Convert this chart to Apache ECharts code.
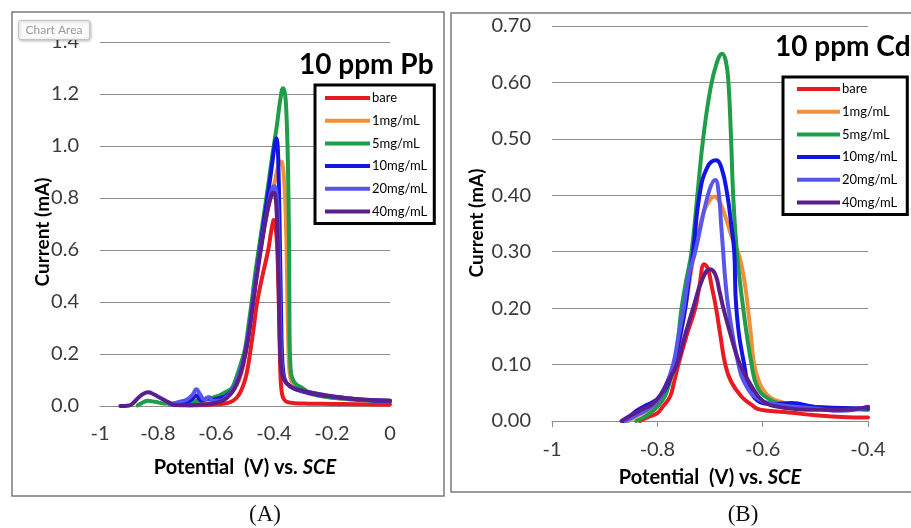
<!DOCTYPE html>
<html>
<head>
<meta charset="utf-8">
<style>
  html, body { margin: 0; padding: 0; background: #ffffff; }
  #chart { width: 911px; height: 528px; }
</style>
<script src="https://cdn.jsdelivr.net/npm/echarts@6/dist/echarts.min.js"></script>
</head>
<body>
<div id="chart"></div>
<script>
// Square-wave stripping voltammograms: 10 ppm Pb (A) and 10 ppm Cd (B)
const SERIES_NAMES = ['bare', '1mg/mL', '5mg/mL', '10mg/mL', '20mg/mL', '40mg/mL'];
const SERIES_COLORS = ['#ea1a22', '#f0913a', '#1f9d48', '#1414e4', '#5656ee', '#5a1f8c'];

// Panel A ticks
const PB_X_LABELS = ['-1', '-0.8', '-0.6', '-0.4', '-0.2', '0'];
const PB_Y_LABELS = ['0.0', '0.2', '0.4', '0.6', '0.8', '1.0', '1.2', '1.4'];
// Panel B ticks
const CD_X_LABELS = ['-1', '-0.8', '-0.6', '-0.4'];
const CD_Y_LABELS = ['0.00', '0.10', '0.20', '0.30', '0.40', '0.50', '0.60', '0.70'];

// Panel A: potential (V) vs current (mA)
const PB_BARE = [[-0.70,0.003],[-0.64,0.004],[-0.58,0.008],[-0.55,0.015],[-0.53,0.03],[-0.515,0.055],[-0.50,0.1],[-0.49,0.15],[-0.483,0.2],[-0.47,0.3],[-0.458,0.4],[-0.44,0.5],[-0.42,0.6],[-0.41,0.67],[-0.404,0.705],[-0.401,0.715],[-0.397,0.705],[-0.392,0.66],[-0.388,0.58],[-0.384,0.42],[-0.380,0.22],[-0.377,0.1],[-0.372,0.045],[-0.365,0.025],[-0.355,0.016],[-0.33,0.011],[-0.28,0.009],[-0.2,0.008],[-0.12,0.007],[-0.05,0.006],[0,0.006]];
const PB_1 = [[-0.72,0.004],[-0.69,0.01],[-0.665,0.03],[-0.645,0.012],[-0.62,0.015],[-0.59,0.025],[-0.56,0.04],[-0.54,0.06],[-0.52,0.1],[-0.505,0.16],[-0.49,0.25],[-0.478,0.35],[-0.467,0.45],[-0.455,0.55],[-0.44,0.65],[-0.42,0.76],[-0.40,0.85],[-0.388,0.91],[-0.378,0.94],[-0.372,0.935],[-0.366,0.88],[-0.361,0.78],[-0.357,0.62],[-0.354,0.42],[-0.351,0.25],[-0.347,0.14],[-0.34,0.095],[-0.325,0.07],[-0.3,0.055],[-0.25,0.04],[-0.2,0.032],[-0.1,0.022],[0,0.018]];
const PB_5 = [[-0.87,0.002],[-0.855,0.012],[-0.835,0.02],[-0.81,0.016],[-0.78,0.01],[-0.74,0.01],[-0.70,0.015],[-0.66,0.02],[-0.62,0.03],[-0.59,0.04],[-0.565,0.055],[-0.545,0.07],[-0.53,0.11],[-0.515,0.16],[-0.50,0.22],[-0.488,0.31],[-0.477,0.4],[-0.466,0.5],[-0.453,0.6],[-0.437,0.72],[-0.42,0.85],[-0.405,0.97],[-0.39,1.08],[-0.378,1.18],[-0.369,1.222],[-0.362,1.2],[-0.357,1.12],[-0.353,0.98],[-0.35,0.8],[-0.348,0.6],[-0.347,0.4],[-0.346,0.25],[-0.343,0.15],[-0.338,0.11],[-0.325,0.085],[-0.3,0.068],[-0.276,0.05],[-0.22,0.035],[-0.15,0.027],[-0.08,0.022],[0,0.02]];
const PB_10 = [[-0.75,0.005],[-0.72,0.012],[-0.69,0.02],[-0.668,0.04],[-0.65,0.02],[-0.63,0.03],[-0.61,0.025],[-0.59,0.03],[-0.565,0.04],[-0.545,0.06],[-0.525,0.1],[-0.51,0.15],[-0.497,0.22],[-0.485,0.3],[-0.473,0.4],[-0.461,0.5],[-0.449,0.6],[-0.432,0.73],[-0.415,0.86],[-0.403,0.96],[-0.396,1.015],[-0.392,1.03],[-0.388,1.01],[-0.385,0.93],[-0.382,0.78],[-0.379,0.58],[-0.376,0.38],[-0.373,0.22],[-0.368,0.13],[-0.36,0.095],[-0.345,0.075],[-0.32,0.062],[-0.28,0.05],[-0.2,0.036],[-0.12,0.026],[-0.05,0.02],[0,0.018]];
const PB_20 = [[-0.76,0.005],[-0.73,0.015],[-0.70,0.025],[-0.68,0.045],[-0.668,0.064],[-0.655,0.045],[-0.64,0.025],[-0.625,0.035],[-0.61,0.02],[-0.59,0.02],[-0.57,0.03],[-0.55,0.05],[-0.53,0.09],[-0.515,0.14],[-0.50,0.2],[-0.487,0.29],[-0.474,0.39],[-0.462,0.49],[-0.45,0.58],[-0.435,0.68],[-0.42,0.77],[-0.408,0.83],[-0.399,0.845],[-0.393,0.83],[-0.388,0.76],[-0.384,0.62],[-0.381,0.45],[-0.378,0.28],[-0.374,0.16],[-0.367,0.11],[-0.355,0.085],[-0.33,0.068],[-0.3,0.058],[-0.2,0.038],[-0.1,0.025],[0,0.02]];
const PB_40 = [[-0.93,0.0],[-0.90,0.002],[-0.885,0.012],[-0.865,0.035],[-0.845,0.05],[-0.833,0.053],[-0.815,0.045],[-0.79,0.03],[-0.765,0.015],[-0.74,0.004],[-0.70,0.003],[-0.66,0.005],[-0.62,0.008],[-0.59,0.015],[-0.57,0.025],[-0.55,0.045],[-0.535,0.07],[-0.52,0.11],[-0.505,0.17],[-0.492,0.24],[-0.48,0.33],[-0.468,0.43],[-0.455,0.53],[-0.44,0.64],[-0.425,0.74],[-0.412,0.8],[-0.403,0.82],[-0.397,0.815],[-0.392,0.77],[-0.388,0.66],[-0.384,0.48],[-0.381,0.3],[-0.377,0.17],[-0.37,0.115],[-0.357,0.088],[-0.33,0.068],[-0.3,0.058],[-0.25,0.046],[-0.2,0.037],[-0.1,0.025],[0,0.02]];

// Panel B: potential (V) vs current (mA)
const CD_BARE = [[-0.833,0],[-0.82,0.006],[-0.80,0.014],[-0.79,0.025],[-0.776,0.043],[-0.768,0.07],[-0.76,0.1],[-0.745,0.15],[-0.728,0.2],[-0.72,0.24],[-0.711,0.278],[-0.704,0.27],[-0.697,0.24],[-0.6885,0.2],[-0.68,0.15],[-0.671,0.1],[-0.66,0.07],[-0.64,0.043],[-0.62,0.028],[-0.611,0.022],[-0.59,0.018],[-0.55,0.015],[-0.5,0.01],[-0.45,0.007],[-0.4,0.006]];
const CD_1 = [[-0.855,0],[-0.84,0.008],[-0.82,0.018],[-0.80,0.03],[-0.785,0.05],[-0.772,0.08],[-0.763,0.11],[-0.754,0.16],[-0.745,0.21],[-0.735,0.27],[-0.725,0.32],[-0.712,0.37],[-0.70,0.392],[-0.692,0.398],[-0.681,0.387],[-0.669,0.357],[-0.659,0.327],[-0.644,0.291],[-0.633,0.238],[-0.628,0.2],[-0.622,0.15],[-0.616,0.1],[-0.605,0.065],[-0.59,0.045],[-0.57,0.035],[-0.54,0.028],[-0.5,0.024],[-0.45,0.022],[-0.4,0.02]];
const CD_5 = [[-0.84,0.0],[-0.82,0.01],[-0.80,0.025],[-0.785,0.045],[-0.775,0.075],[-0.766,0.1],[-0.76,0.15],[-0.754,0.2],[-0.745,0.25],[-0.735,0.3],[-0.724,0.4],[-0.713,0.5],[-0.699,0.59],[-0.687,0.635],[-0.677,0.651],[-0.670,0.638],[-0.665,0.6],[-0.660,0.5],[-0.656,0.4],[-0.649,0.3],[-0.637,0.2],[-0.621,0.1],[-0.61,0.06],[-0.59,0.04],[-0.56,0.03],[-0.5,0.025],[-0.45,0.022],[-0.4,0.02]];
const CD_10 = [[-0.865,0],[-0.85,0.01],[-0.84,0.018],[-0.827,0.025],[-0.81,0.033],[-0.795,0.043],[-0.78,0.065],[-0.768,0.1],[-0.757,0.15],[-0.747,0.2],[-0.74,0.25],[-0.732,0.3],[-0.72,0.4],[-0.705,0.45],[-0.6885,0.462],[-0.678,0.448],[-0.667,0.4],[-0.660,0.35],[-0.654,0.3],[-0.650,0.2],[-0.635,0.1],[-0.617,0.043],[-0.58,0.03],[-0.545,0.032],[-0.5,0.025],[-0.45,0.023],[-0.4,0.022]];
const CD_20 = [[-0.86,0],[-0.84,0.01],[-0.82,0.02],[-0.80,0.035],[-0.785,0.06],[-0.77,0.1],[-0.76,0.15],[-0.75,0.2],[-0.74,0.26],[-0.728,0.3],[-0.704,0.4],[-0.69,0.427],[-0.683,0.4],[-0.679,0.35],[-0.675,0.3],[-0.671,0.25],[-0.665,0.2],[-0.646,0.1],[-0.63,0.06],[-0.61,0.04],[-0.58,0.03],[-0.5,0.022],[-0.45,0.018],[-0.4,0.025]];
const CD_40 = [[-0.868,0],[-0.85,0.01],[-0.83,0.02],[-0.81,0.03],[-0.795,0.045],[-0.78,0.07],[-0.763,0.1],[-0.748,0.15],[-0.732,0.2],[-0.715,0.25],[-0.70,0.269],[-0.69,0.26],[-0.682,0.23],[-0.6746,0.2],[-0.66,0.15],[-0.643,0.1],[-0.62,0.06],[-0.5986,0.035],[-0.57,0.025],[-0.5,0.02],[-0.45,0.02],[-0.4,0.025]];

const PB_DATA = [PB_BARE, PB_1, PB_5, PB_10, PB_20, PB_40];
const CD_DATA = [CD_BARE, CD_1, CD_5, CD_10, CD_20, CD_40];

const FONT = 'Lato, "Open Sans", sans-serif';
const GRID_GRAY = '#8c8c8c';
const LABEL_GRAY = '#3a3a3a';

function tickFormatter(labels, min, step) {
  return function (v) {
    const i = Math.round((v - min) / step);
    return labels[i] !== undefined ? labels[i] : '';
  };
}

function makeSeries(dataSets, axisIndex) {
  return dataSets.map(function (d, i) {
    return {
      name: SERIES_NAMES[i],
      type: 'line',
      xAxisIndex: axisIndex,
      yAxisIndex: axisIndex,
      data: d,
      showSymbol: false,
      symbol: 'none',
      smooth: 0.45,
      color: SERIES_COLORS[i],
      lineStyle: { width: 4, color: SERIES_COLORS[i], cap: 'round', join: 'round' },
      z: 3 + i
    };
  });
}

function legendFor(left, top, padding, itemWidth) {
  return {
    orient: 'vertical',
    left: left,
    top: top,
    data: SERIES_NAMES,
    icon: 'rect',
    itemWidth: itemWidth,
    itemHeight: 4,
    itemGap: 6.7,
    padding: padding,
    backgroundColor: '#ffffff',
    borderColor: '#000000',
    borderWidth: 3,
    borderRadius: 0,
    selectedMode: false,
    textStyle: { fontFamily: FONT, fontSize: 13, color: '#000000', lineHeight: 16, padding: [0, 0, 0, -3] }
  };
}

const chart = echarts.init(document.getElementById('chart'), null, { renderer: 'canvas' });

const option = {
  animation: false,
  backgroundColor: '#ffffff',
  grid: [
    { left: 100, top: 42, width: 290, height: 364 },
    { left: 552, top: 26, width: 316, height: 395 }
  ],
  xAxis: [
    {
      gridIndex: 0, type: 'value', min: -1, max: 0, interval: 0.2,
      axisLine: { show: true, onZero: false, lineStyle: { color: GRID_GRAY, width: 1 } },
      axisTick: { show: false },
      splitLine: { show: false },
      axisLabel: { formatter: tickFormatter(PB_X_LABELS, -1, 0.2), margin: 18, fontSize: 20, color: LABEL_GRAY, fontFamily: FONT }
    },
    {
      gridIndex: 1, type: 'value', min: -1, max: -0.4, interval: 0.2,
      axisLine: { show: true, onZero: false, lineStyle: { color: GRID_GRAY, width: 1 } },
      axisTick: { show: true, length: 6, lineStyle: { color: GRID_GRAY } },
      splitLine: { show: false },
      axisLabel: { formatter: tickFormatter(CD_X_LABELS, -1, 0.2), margin: 19, fontSize: 20, color: LABEL_GRAY, fontFamily: FONT }
    }
  ],
  yAxis: [
    {
      gridIndex: 0, type: 'value', min: 0, max: 1.4, interval: 0.2,
      axisLine: { show: false }, axisTick: { show: false },
      splitLine: { show: true, lineStyle: { color: GRID_GRAY, width: 1 } },
      axisLabel: { formatter: tickFormatter(PB_Y_LABELS, 0, 0.2), margin: 21, fontSize: 20, color: LABEL_GRAY, fontFamily: FONT }
    },
    {
      gridIndex: 1, type: 'value', min: 0, max: 0.7, interval: 0.1,
      axisLine: { show: false }, axisTick: { show: false },
      splitLine: { show: true, lineStyle: { color: GRID_GRAY, width: 1 } },
      axisLabel: { formatter: tickFormatter(CD_Y_LABELS, 0, 0.1), margin: 21, fontSize: 20, color: LABEL_GRAY, fontFamily: FONT }
    }
  ],
  legend: [
    legendFor(315, 85, [5, 7, 4, 10], 45),
    legendFor(783, 77, [4, 10, 4, 14], 43)
  ],
  series: makeSeries(PB_DATA, 0).concat(makeSeries(CD_DATA, 1)),
  graphic: [
    // panel frames
    { type: 'rect', z: 0, silent: true, shape: { x: 12, y: 12, width: 432, height: 484 }, style: { fill: 'none', stroke: '#7a7a7a', lineWidth: 1.5 } },
    { type: 'rect', z: 0, silent: true, shape: { x: 451, y: 13, width: 470, height: 479 }, style: { fill: 'none', stroke: '#7a7a7a', lineWidth: 1.5 } },
    // panel titles
    { type: 'text', z: 10, left: 299, top: 51, style: { text: '10 ppm Pb', font: 'bold 28px ' + FONT, fill: '#000000' } },
    { type: 'text', z: 10, left: 775, top: 33, style: { text: '10 ppm Cd', font: 'bold 28px ' + FONT, fill: '#000000' } },
    // axis titles, panel A
    { type: 'text', z: 10, x: 43, y: 232, rotation: Math.PI / 2, style: { text: 'Current (mA)', font: 'bold 19px ' + FONT, fill: '#000000', align: 'center', verticalAlign: 'middle' } },
    { type: 'text', z: 10, x: 245, y: 468, style: { text: '{a|Potential  (V) vs. }{b|SCE}', align: 'center', verticalAlign: 'middle',
        rich: { a: { fontFamily: FONT, fontWeight: 'bold', fontSize: 20, fill: '#000000' }, b: { fontFamily: FONT, fontWeight: 'bold', fontStyle: 'italic', fontSize: 20, fill: '#000000' } } } },
    // axis titles, panel B
    { type: 'text', z: 10, x: 477, y: 223, rotation: Math.PI / 2, style: { text: 'Current (mA)', font: 'bold 19px ' + FONT, fill: '#000000', align: 'center', verticalAlign: 'middle' } },
    { type: 'text', z: 10, x: 710, y: 478, style: { text: '{a|Potential  (V) vs. }{b|SCE}', align: 'center', verticalAlign: 'middle',
        rich: { a: { fontFamily: FONT, fontWeight: 'bold', fontSize: 20, fill: '#000000' }, b: { fontFamily: FONT, fontWeight: 'bold', fontStyle: 'italic', fontSize: 20, fill: '#000000' } } } },
    // panel captions
    { type: 'text', z: 10, x: 265, y: 515, style: { text: '(A)', font: '23px "Liberation Serif", "DejaVu Serif", serif', fill: '#111111', align: 'center', verticalAlign: 'middle' } },
    { type: 'text', z: 10, x: 743, y: 515, style: { text: '(B)', font: '23px "Liberation Serif", "DejaVu Serif", serif', fill: '#111111', align: 'center', verticalAlign: 'middle' } },
    // "Chart Area" hover badge
    { type: 'rect', z: 20, silent: true, shape: { x: 18.5, y: 20.5, width: 71, height: 19, r: 2 },
      style: { fill: '#fbfbfb', stroke: '#c4c4c4', lineWidth: 1, shadowBlur: 3, shadowOffsetX: 1, shadowOffsetY: 1, shadowColor: 'rgba(0,0,0,0.25)' } },
    { type: 'text', z: 21, x: 54, y: 30, style: { text: 'Chart Area', font: '12px ' + FONT, fill: '#9a9a9a', align: 'center', verticalAlign: 'middle' } }
  ]
};

chart.setOption(option);
</script>
</body>
</html>
